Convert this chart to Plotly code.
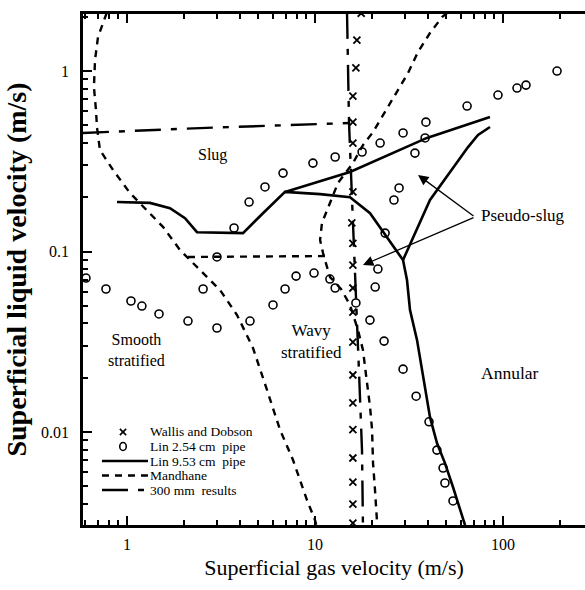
import plotly.graph_objects as go

# ---------------- data (m/s) ----------------
# Wallis and Dobson (x markers)
wd_x = [17.6, 16.7, 16.5, 15.9, 15.9, 15.9, 15.9, 15.7, 15.9, 15.9, 15.9, 15.9,
        15.9, 15.9, 15.9, 15.9, 15.9, 15.9, 15.9, 15.9]
wd_y = [2.09, 1.485, 1.04, 0.727, 0.521, 0.399, 0.214, 0.144, 0.111, 0.0842, 0.0628,
        0.0462, 0.0315, 0.0207, 0.0145, 0.0103, 0.00718, 0.00528, 0.00399, 0.00313]

# Lin 2.54 cm pipe (open circles)
lin254_x = [0.605, 0.773, 1.05, 1.20, 1.48, 2.11, 2.54, 3.01, 3.01, 3.71, 4.46, 4.51,
            5.42, 5.98, 6.76, 6.93, 7.93, 9.75, 9.88, 12.0, 12.8, 12.8, 16.5, 17.8,
            19.6, 20.9, 21.6, 22.2, 23.3, 23.6, 26.3, 28.0, 29.4, 29.4, 34.0, 34.5,
            38.9, 38.5, 40.4, 44.5, 48.0, 49.1, 54.2, 64.4, 94.0, 118.7, 132.5, 193.8]
lin254_y = [0.0713, 0.0620, 0.0532, 0.0499, 0.0451, 0.0412, 0.0620, 0.0933, 0.0377, 0.135,
            0.188, 0.0412, 0.228, 0.0506, 0.272, 0.0620, 0.0731, 0.309, 0.0760, 0.0704,
            0.334, 0.0628, 0.0519, 0.356, 0.0417, 0.0636, 0.0800, 0.399, 0.0319, 0.1265,
            0.193, 0.225, 0.454, 0.0223, 0.351, 0.0158, 0.521, 0.426, 0.0114, 0.00794,
            0.00632, 0.00522, 0.00415, 0.640, 0.736, 0.805, 0.836, 1.0]

# Lin 9.53 cm pipe (solid lines, three segments)
lin953_a_x = [0.885, 1.325, 1.693, 2.035, 2.357, 4.14, 5.287, 6.925, 10.64, 15.35, 19.62,
              24.14, 29.38, 30.85, 32.01, 34.87, 37.52, 40.89, 44.53, 49.1, 54.18, 62.8]
lin953_a_y = [0.188, 0.186, 0.174, 0.153, 0.128, 0.1265, 0.163, 0.214, 0.208, 0.200, 0.163,
              0.120, 0.0897, 0.0695, 0.0474, 0.0324, 0.0202, 0.0121, 0.00869, 0.00673,
              0.00496, 0.00305]
lin953_b_x = [6.925, 15.35, 39.4, 85.25]
lin953_b_y = [0.214, 0.276, 0.426, 0.556]
lin953_c_x = [29.38, 40.89, 65.14, 73.62, 85.25]
lin953_c_y = [0.0897, 0.193, 0.379, 0.442, 0.490]

# Mandhane (dashed)
man_a_x = [0.78, 0.701, 0.676, 0.667, 0.684, 0.692, 0.718, 0.843, 1.037, 1.277, 1.554,
           1.915, 2.11, 2.445, 3.124, 3.848, 4.68, 5.555, 6.513, 7.638, 9.063, 10.0, 10.2]
man_a_y = [2.1, 1.542, 1.151, 0.815, 0.608, 0.490, 0.365, 0.283, 0.211, 0.170, 0.137,
           0.1019, 0.0921, 0.0790, 0.0612, 0.0445, 0.0292, 0.0171, 0.0103, 0.0070,
           0.0042, 0.00325, 0.00300]
man_b_x = [2.11, 11.3]
man_b_y = [0.0933, 0.0944]
man_c_x = [50.5, 47.39, 40.89, 35.29, 31.24, 27.63, 24.43, 20.35, 17.99, 15.92, 13.25,
           11.72, 10.89, 10.64, 11.03, 11.59, 12.02, 13.75, 15.35, 16.93, 17.99, 18.91,
           19.62, 20.11, 20.35, 20.85, 21.37, 21.45]
man_c_y = [2.1, 1.991, 1.624, 1.274, 0.975, 0.785, 0.624, 0.459, 0.389, 0.309, 0.240,
           0.177, 0.144, 0.116, 0.0981, 0.0820, 0.0722, 0.0620, 0.0506, 0.0367, 0.0285,
           0.0187, 0.0138, 0.0103, 0.00673, 0.00477, 0.00325, 0.00300]

# 300 mm results (dash-dot)
r300_h_x = [0.583, 2.445, 15.17]
r300_h_y = [0.454, 0.483, 0.515]
r300_v_x = [14.8, 15.17, 15.74, 16.52, 17.15, 17.78, 17.99]
r300_v_y = [2.1, 0.515, 0.193, 0.0612, 0.0212, 0.00794, 0.00300]

x_tick_vals = [1, 10, 100]
x_tick_text = ["1", "10", "100"]
y_tick_vals = [0.01, 0.1, 1]
y_tick_text = ["0.01", "0.1", "1"]

legend_labels = ["Wallis and Dobson", "Lin 2.54 cm\u00a0 pipe", "Lin 9.53 cm\u00a0 pipe",
                 "Mandhane", "300 mm\u00a0 results"]


def join(*segs):
    out = []
    for i, s in enumerate(segs):
        if i:
            out.append(None)
        out.extend(s)
    return out


FONT = "Liberation Serif, Times New Roman, serif"
SOLID = "solid"
MAN_DASH = "7px,6px"
R300_DASH = "26px,10px,6px,10px"

fig = go.Figure()

fig.add_trace(go.Scatter(
    x=wd_x, y=wd_y, mode="markers", name=legend_labels[0], showlegend=False,
    marker=dict(symbol="x-thin", size=7, line=dict(width=1.8, color="black"), color="black")))
fig.add_trace(go.Scatter(
    x=lin254_x, y=lin254_y, mode="markers", name=legend_labels[1], showlegend=False,
    marker=dict(symbol="circle-open", size=8, line=dict(width=1.6, color="black"), color="black")))
fig.add_trace(go.Scatter(
    x=join(lin953_a_x, lin953_b_x, lin953_c_x), y=join(lin953_a_y, lin953_b_y, lin953_c_y),
    mode="lines", name=legend_labels[2], connectgaps=False, showlegend=False,
    line=dict(color="black", width=2.6)))
fig.add_trace(go.Scatter(
    x=join(man_a_x, man_b_x, man_c_x), y=join(man_a_y, man_b_y, man_c_y),
    mode="lines", name=legend_labels[3], connectgaps=False, showlegend=False,
    line=dict(color="black", width=2.4, dash=MAN_DASH)))
fig.add_trace(go.Scatter(
    x=join(r300_h_x, r300_v_x), y=join(r300_h_y, r300_v_y),
    mode="lines", name=legend_labels[4], connectgaps=False, showlegend=False,
    line=dict(color="black", width=2.4, dash=R300_DASH)))

# ---- region labels ----
texts = [
    ("Slug", 0.457, -0.465, 16),
    ("Smooth<br>stratified", 0.053, -1.546, 16),
    ("Wavy<br>stratified", 0.979, -1.496, 17),
    ("Annular", 2.037, -1.673, 17.5),
    ("Pseudo-slug", 2.106, -0.798, 17),
]
for t, lx, ly, fs in texts:
    fig.add_annotation(x=lx, y=ly, xref="x", yref="y", text=t, showarrow=False,
                       font=dict(family=FONT, size=fs, color="black"), align="center")

for hx, hy in [(1.548, -0.576), (1.255, -1.075)]:
    fig.add_annotation(x=hx, y=hy, ax=1.851, ay=-0.809, xref="x", yref="y",
                       axref="x", ayref="y", text="", showarrow=True,
                       arrowhead=2, arrowsize=1.6, arrowwidth=1.3, arrowcolor="black")

# ---- hand-drawn legend (paper coordinates) ----
row_y = [0.1820, 0.1536, 0.1252, 0.0968, 0.0684]
sym_x0, sym_x1 = 0.0378, 0.1295
txt_x = 0.1315
for lbl, yy in zip(legend_labels, row_y):
    fig.add_annotation(x=txt_x, y=yy, xref="paper", yref="paper", text=lbl,
                       showarrow=False, xanchor="left", yanchor="middle", borderpad=0,
                       font=dict(family=FONT, size=13.5, color="black"))
# x symbol
cx, hw, hh = 0.0797, 0.0062, 0.0062
fig.add_shape(type="line", xref="paper", yref="paper", x0=cx - hw, x1=cx + hw,
              y0=row_y[0] + hh, y1=row_y[0] - hh, line=dict(color="black", width=1.6))
fig.add_shape(type="line", xref="paper", yref="paper", x0=cx - hw, x1=cx + hw,
              y0=row_y[0] - hh, y1=row_y[0] + hh, line=dict(color="black", width=1.6))
# o symbol
fig.add_shape(type="circle", xref="paper", yref="paper", x0=cx - 0.0065, x1=cx + 0.0065,
              y0=row_y[1] - 0.0078, y1=row_y[1] + 0.0078, line=dict(color="black", width=1.6))
for yy, dsh in zip(row_y[2:], [SOLID, MAN_DASH, R300_DASH]):
    fig.add_shape(type="line", xref="paper", yref="paper", x0=sym_x0, x1=sym_x1,
                  y0=yy, y1=yy, line=dict(color="black", width=2.4, dash=dsh))

fig.update_xaxes(
    type="log", range=[-0.234, 2.436],
    tickvals=x_tick_vals, ticktext=x_tick_text,
    ticks="inside", ticklen=9, tickwidth=2, tickcolor="black",
    minor=dict(ticks="inside", ticklen=5, tickwidth=1.5, tickcolor="black",
               tickvals=[0.6, 0.7, 0.8, 0.9, 2, 3, 4, 5, 6, 7, 8, 9,
                         20, 30, 40, 50, 60, 70, 80, 90, 200], showgrid=False),
    showline=True, linewidth=2.5, linecolor="black", mirror="ticks",
    showgrid=False, zeroline=False,
    tickfont=dict(family=FONT, size=16, color="black"), ticklabelstandoff=3,
    title=dict(text="Superficial gas velocity (m/s)", standoff=8,
               font=dict(family=FONT, size=22, color="black")))
fig.update_yaxes(
    type="log", range=[-2.515, 0.316],
    tickvals=y_tick_vals, ticktext=y_tick_text,
    ticks="inside", ticklen=9, tickwidth=2, tickcolor="black",
    minor=dict(ticks="inside", ticklen=5, tickwidth=1.5, tickcolor="black",
               tickvals=[0.004, 0.005, 0.006, 0.007, 0.008, 0.009,
                         0.02, 0.03, 0.04, 0.05, 0.06, 0.07, 0.08, 0.09,
                         0.2, 0.3, 0.4, 0.5, 0.6, 0.7, 0.8, 0.9, 2], showgrid=False),
    showline=True, linewidth=2.5, linecolor="black", mirror=False,
    showgrid=False, zeroline=False,
    tickfont=dict(family=FONT, size=16, color="black"), ticklabelstandoff=8,
    title=dict(text="<b>Superficial liquid velocity (m/s)</b>", standoff=7,
               font=dict(family=FONT, size=28, color="black")))

fig.update_layout(
    width=585, height=590,
    margin=dict(l=83, r=0, t=14, b=65),
    paper_bgcolor="white", plot_bgcolor="white",
    showlegend=False,
)

fig.write_html("out.html")
